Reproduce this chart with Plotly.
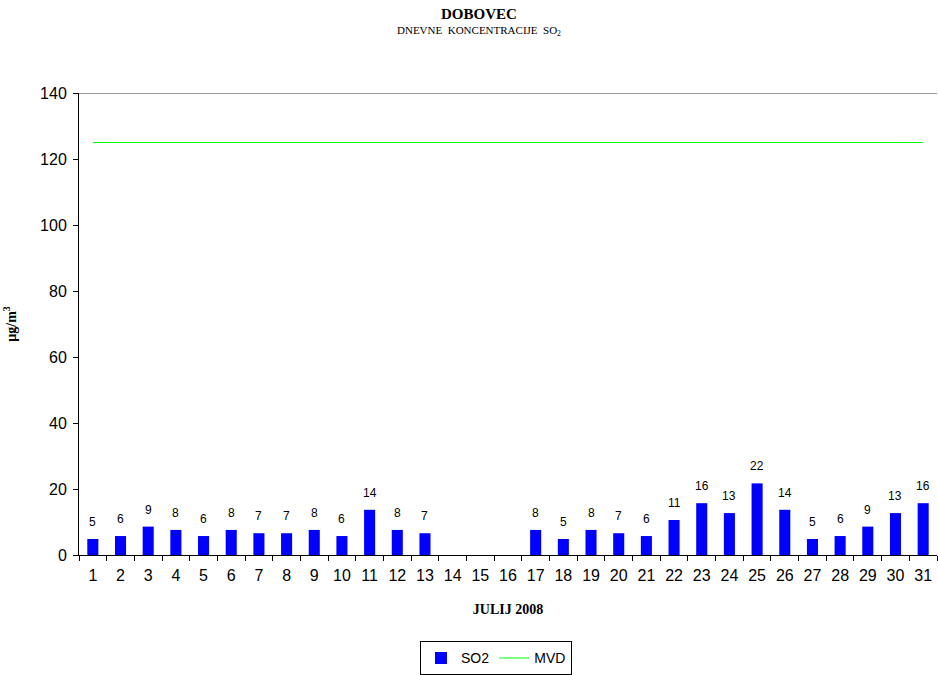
import plotly.graph_objects as go

days = [str(d) for d in range(1, 32)]
so2 = [4.85, 5.75, 8.6, 7.6, 5.75, 7.6, 6.6, 6.6, 7.6, 5.75,
       13.7, 7.6, 6.6, None, None, None, 7.6, 4.85, 7.6, 6.6,
       5.75, 10.6, 15.7, 12.7, 21.7, 13.7, 4.85, 5.75, 8.6, 12.7, 15.7]
mvd = [125] * 31
y_ticks = [0, 20, 40, 60, 80, 100, 120, 140]

fig = go.Figure()
fig.add_trace(go.Bar(
    x=days, y=so2, name="SO2", width=0.4,
    marker=dict(color="#0000FF", line=dict(width=0)),
))
fig.add_trace(go.Scatter(
    x=days, y=mvd, name="MVD", mode="lines",
    line=dict(color="#00FF00", width=1),
))

for i, v in enumerate(so2):
    if v is None:
        continue
    fig.add_annotation(x=i, y=v, xref="x", yref="y", text="%.0f" % v,
                       showarrow=False, yanchor="middle", yshift=17,
                       font=dict(family="Arial", size=12, color="#000000"))

fig.update_layout(
    width=938, height=675,
    margin=dict(l=79, r=1, t=93, b=120, autoexpand=False),
    paper_bgcolor="white", plot_bgcolor="white",
    font=dict(family="Arial", size=15, color="#000000"),
    showlegend=True,
    legend=dict(orientation="h", x=0.486, xanchor="center", y=-0.187, yanchor="top",
                bordercolor="#000000", borderwidth=1,
                font=dict(family="Arial", size=14), traceorder="normal",
                itemwidth=30),
)
fig.add_annotation(text="<b>DOBOVEC</b>", xref="paper", yref="paper", x=0.466, y=1.0,
                   yanchor="middle", yshift=79, showarrow=False,
                   font=dict(family="Liberation Serif", size=15))
fig.add_annotation(text="DNEVNE  KONCENTRACIJE  SO<sub>2</sub>", xref="paper", yref="paper",
                   x=0.466, y=1.0, yanchor="middle", yshift=62, showarrow=False,
                   font=dict(family="Liberation Serif", size=11))

fig.update_xaxes(
    type="category", range=[-0.5, 30.5],
    tickson="boundaries", ticks="outside", ticklen=5, tickcolor="#000000",
    showline=True, linecolor="#000000", linewidth=1,
    showgrid=False, zeroline=False, ticklabelstandoff=6,
    tickfont=dict(family="Arial", size=16),
    title=dict(text="<b>JULIJ 2008</b>", font=dict(family="Liberation Serif", size=14), standoff=20),
)
fig.update_yaxes(
    range=[0, 140], tickvals=y_ticks, ticks="outside", ticklen=5, tickcolor="#000000",
    showline=True, linecolor="#000000", linewidth=1,
    showgrid=False, zeroline=False, ticklabelstandoff=3,
    tickfont=dict(family="Arial", size=16),
    title=dict(text="<b>µg/m<sup>3</sup></b>", font=dict(family="Liberation Serif", size=14), standoff=20),
)
fig.add_shape(type="line", xref="paper", yref="y", x0=0, x1=1, y0=140, y1=140,
              line=dict(color="#999999", width=2))

fig.write_html("out.html")
